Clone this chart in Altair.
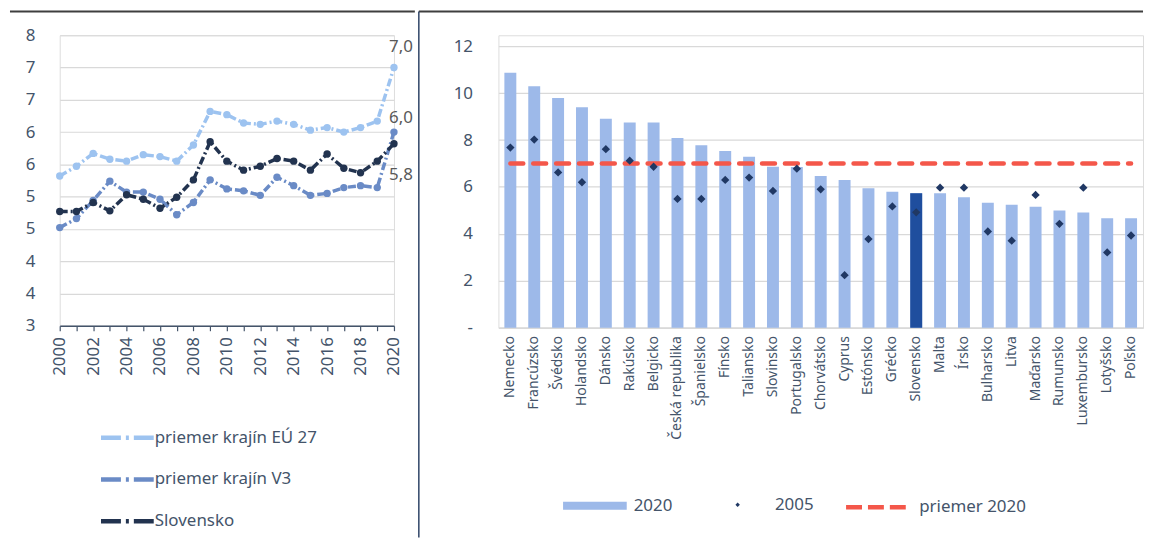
import altair as alt
import pandas as pd

# ---------------- data: left panel ----------------
years = list(range(2000, 2021))
eu27 = [5.32, 5.47, 5.67, 5.58, 5.55, 5.65, 5.62, 5.55, 5.80, 6.32, 6.27,
        6.14, 6.12, 6.17, 6.12, 6.03, 6.07, 6.00, 6.07, 6.17, 7.00]
v3 = [4.52, 4.66, 4.94, 5.24, 5.07, 5.07, 4.96, 4.72, 4.91, 5.26, 5.12,
      5.09, 5.02, 5.30, 5.17, 5.02, 5.05, 5.14, 5.17, 5.14, 6.00]
sk = [4.77, 4.77, 4.91, 4.78, 5.03, 4.96, 4.82, 4.99, 5.26, 5.85, 5.55,
      5.41, 5.47, 5.59, 5.55, 5.41, 5.66, 5.44, 5.37, 5.55, 5.82]
series_names = ["priemer krajín EÚ 27", "priemer krajín V3", "Slovensko"]
series_colors = ["#9DC3F0", "#6A8BC6", "#22334F"]
left_y_ticks = [3.0, 3.5, 4.0, 4.5, 5.0, 5.5, 6.0, 6.5, 7.0, 7.5]

# ---------------- data: right panel ----------------
countries = ["Nemecko", "Francúzsko", "Švédsko", "Holandsko", "Dánsko", "Rakúsko",
             "Belgicko", "Česká republika", "Španielsko", "Fínsko", "Taliansko",
             "Slovinsko", "Portugalsko", "Chorvátsko", "Cyprus", "Estónsko", "Grécko",
             "Slovensko", "Malta", "Írsko", "Bulharsko", "Litva", "Maďarsko",
             "Rumunsko", "Luxembursko", "Lotyšsko", "Poľsko"]
val_2020 = [10.87, 10.29, 9.79, 9.40, 8.91, 8.75, 8.75, 8.09, 7.78, 7.53, 7.29,
            6.86, 6.85, 6.47, 6.30, 5.94, 5.80, 5.73, 5.73, 5.56, 5.33, 5.24,
            5.16, 5.00, 4.91, 4.67, 4.67]
val_2005 = [7.68, 8.02, 6.62, 6.20, 7.61, 7.12, 6.86, 5.49, 5.49, 6.30, 6.40,
            5.83, 6.78, 5.90, 2.24, 3.78, 5.17, 4.92, 5.97, 5.97, 4.10, 3.71,
            5.66, 4.43, 5.97, 3.21, 3.93]
avg_2020 = 7.0
highlight = "Slovensko"
right_y_ticks = [0, 2, 4, 6, 8, 10, 12]
right_legend_labels = ["2020", "2005", "priemer 2020"]

FONT = "Noto Sans"
TXT = "#44546A"

# ---------------- left panel ----------------
long = pd.DataFrame({
    "year": years * 3,
    "value": eu27 + v3 + sk,
    "series": [n for n in series_names for _ in years],
})
long["label"] = long["value"].map(lambda v: f"{v:.1f}".replace(".", ","))

color_l = alt.Color(
    "series:N",
    sort=series_names,
    scale=alt.Scale(domain=series_names, range=series_colors),
    legend=alt.Legend(
        title=None, orient="none", legendX=55.5, legendY=392, direction="vertical",
        symbolType="M-2.65,0H-0.65M-0.15,0H0.15M0.65,0H2.65",
        symbolSize=400, symbolStrokeWidth=4.5, symbolDash=[1, 0],
        labelFontSize=17, labelColor=TXT, labelFont=FONT, labelLimit=400,
        rowPadding=20, labelOffset=15, padding=0,
    ),
)

x_l = alt.X(
    "year:Q",
    scale=alt.Scale(domain=[2000, 2020], nice=False, zero=False),
    axis=alt.Axis(
        values=years, format="d",
        labelExpr="datum.value % 2 == 0 ? datum.label : ''",
        labelAngle=-90, grid=False, domainColor=TXT, domainWidth=1.5,
        tickColor=TXT, tickSize=5, tickWidth=1.2, labelPadding=6,
        labelFontSize=17, labelColor=TXT, title=None, labelFlush=False,
        labelOverlap=False,
    ),
)
y_l = alt.Y(
    "value:Q",
    scale=alt.Scale(domain=[3, 7.5], nice=False, zero=False),
    axis=alt.Axis(
        values=left_y_ticks, labelExpr="floor(datum.value + 0.5)",
        grid=True, gridColor="#D9D9D9", gridWidth=1.2, domain=False, ticks=False,
        labelPadding=25, labelFontSize=17, labelColor=TXT, title=None,
        labelOverlap=False,
    ),
)

base_l = alt.Chart(long)
lines = base_l.mark_line(
    strokeWidth=3.5, strokeDash=[8, 3, 2, 3],
    point=alt.OverlayMarkDef(filled=True, size=55, opacity=1),
).encode(x=x_l, y=y_l, color=color_l)

label_offsets = {series_names[0]: -21, series_names[1]: -14, series_names[2]: 31}
texts = []
for name in series_names:
    texts.append(
        base_l.transform_filter(
            (alt.datum.year == years[-1]) & (alt.datum.series == name)
        ).mark_text(
            fontSize=17, color="#595959", dx=7, dy=label_offsets[name], align="center",
            baseline="middle", font=FONT,
        ).encode(x=x_l, y=y_l, text="label:N")
    )

frame_df = pd.DataFrame({"k": [0]})
top_line_l = alt.Chart(frame_df).mark_rule(color="#3F3F3F", strokeWidth=2).encode(
    x=alt.value(-50), x2=alt.value(357), y=alt.value(-24)
)

left = alt.layer(lines, *texts, top_line_l).properties(width=336, height=292)

# ---------------- right panel ----------------
dfr = pd.DataFrame({
    "country": countries,
    "idx": list(range(len(countries))),
    "v2020": val_2020,
    "v2005": val_2005,
    "avg": [avg_2020] * len(countries),
    "s2020": right_legend_labels[0],
    "s2005": right_legend_labels[1],
    "savg": right_legend_labels[2],
})

x_r = alt.X(
    "country:N", sort=countries,
    scale=alt.Scale(paddingInner=0.5, paddingOuter=0.25),
    axis=alt.Axis(
        labelAngle=-90, title=None, ticks=False, domainColor="#D9D9D9", domainWidth=1.2,
        labelPadding=8, labelFontSize=14, labelColor=TXT,
    ),
)
# plot area starts 11px above the "12" gridline so both panels share one top edge
y_scale_r = alt.Scale(domain=[0, 12.466], nice=False)
y_axis_r = alt.Axis(
    values=right_y_ticks, labelExpr="datum.value == 0 ? '-' : datum.label",
    grid=True, gridColor="#D9D9D9", gridWidth=1.2, domain=False, ticks=False,
    labelPadding=26, labelFontSize=17, labelColor=TXT, title=None,
)

base_r = alt.Chart(dfr)
bars = base_r.mark_bar(opacity=1).encode(
    x=x_r,
    y=alt.Y("v2020:Q", scale=y_scale_r, axis=y_axis_r),
    color=alt.Color(
        "s2020:N", scale=alt.Scale(range=["#9DB9E9"]),
        legend=alt.Legend(
            title=None, orient="none", legendX=65, legendY=441,
            symbolType="M-1,-0.125H1V0.125H-1Z", symbolSize=4096,
            symbolStrokeWidth=0, labelFontSize=17, labelColor=TXT, labelOffset=7,
            padding=0,
        ),
    ),
)
hl = base_r.transform_filter(alt.datum.country == highlight).mark_bar(
    color="#1F4E9E", opacity=1
).encode(x=x_r, y=alt.Y("v2020:Q", scale=y_scale_r, axis=y_axis_r))

avg_line = base_r.mark_line(strokeDash=[13, 10], strokeWidth=4.5, strokeCap="round").encode(
    x=x_r,
    y=alt.Y("avg:Q", scale=y_scale_r, axis=y_axis_r),
    order=alt.Order("idx:Q"),
    color=alt.Color(
        "savg:N", scale=alt.Scale(range=["#F4574A"]),
        legend=alt.Legend(
            title=None, orient="none", legendX=347, legendY=442,
            symbolType="stroke", symbolSize=3600, symbolDash=[16, 6],
            symbolStrokeWidth=4.5, labelFontSize=17, labelColor=TXT, labelOffset=11,
            padding=0,
        ),
    ),
)
pts = base_r.mark_point(shape="diamond", filled=True, size=70, opacity=1).encode(
    x=x_r,
    y=alt.Y("v2005:Q", scale=y_scale_r, axis=y_axis_r),
    color=alt.Color(
        "s2005:N", scale=alt.Scale(range=["#203864"]),
        legend=alt.Legend(
            title=None, orient="none", legendX=232, legendY=463.5,
            symbolType="diamond", symbolSize=20, labelFontSize=17,
            labelColor=TXT, labelOffset=29, padding=0,
        ),
    ),
)

top_line_r = alt.Chart(frame_df).mark_rule(color="#3F3F3F", strokeWidth=2).encode(
    x=alt.value(-80), x2=alt.value(648), y=alt.value(-24)
)
divider = alt.Chart(frame_df).mark_rule(color="#2E4366", strokeWidth=1.5).encode(
    x=alt.value(-80), y=alt.value(-24), y2=alt.value(505)
)

right = alt.layer(bars, hl, avg_line, pts, top_line_r, divider).resolve_scale(
    color="independent"
).properties(width=648, height=294)

chart = alt.hconcat(left, right, spacing=0).properties(padding=0).configure_view(
    stroke=None
).configure(font=FONT)

chart.save("out.html", embed_options={"renderer": "svg", "actions": False})
